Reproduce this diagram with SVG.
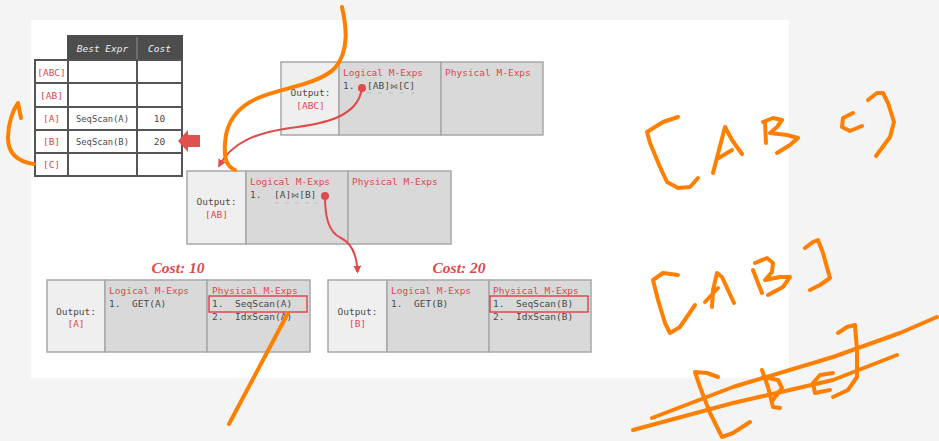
<svg xmlns="http://www.w3.org/2000/svg" width="939" height="441" viewBox="0 0 939 441">
  <defs>
    <style>
      .mono { font-family: "DejaVu Sans Mono", "Liberation Mono", monospace; font-size: 9.5px; }
      .ink { fill: #4a4a4a; }
      .red { fill: #e0474c; }
      .join { font-size: 8px; fill: #6a6a6a; }
      .outcell { fill: #efefef; stroke: #a8a8a8; stroke-width: 1.5; }
      .cell { fill: #d9d9d9; stroke: #a8a8a8; stroke-width: 1.5; }
      .grid { fill: #ffffff; stroke: #555555; stroke-width: 2; }
      .cost { font-family: "Liberation Serif", serif; font-style: italic; font-weight: bold; font-size: 15.5px; fill: #e0474c; }
      .link { fill: none; stroke: #e04a4a; stroke-width: 2; }
      .dash { stroke: #bdbdbd; stroke-width: 1.2; }
      .pen { fill: none; stroke: #ff7f00; stroke-width: 4; stroke-linecap: round; stroke-linejoin: round; }
    </style>
    <marker id="head" viewBox="0 0 10 10" refX="8" refY="5" markerWidth="4" markerHeight="4" orient="auto" markerUnits="strokeWidth">
      <path d="M0,0 L10,5 L0,10 z" fill="#e04a4a"/>
    </marker>
  </defs>

  <!-- backdrop and slide -->
  <rect x="0" y="0" width="939" height="441" fill="#f4f4f4"/>
  <rect x="31" y="20" width="758" height="358" fill="#ffffff"/>

  <!-- memo table -->
  <g id="memo-table" class="mono">
    <rect x="68" y="36" width="114" height="24" fill="#4d4d4d" stroke="#4d4d4d" stroke-width="2"/>
    <line x1="137" y1="37" x2="137" y2="59" stroke="#7a7a7a" stroke-width="1.5"/>
    <text x="102.5" y="52" text-anchor="middle" fill="#eeeeee" font-style="italic">Best Expr</text>
    <text x="159.5" y="52" text-anchor="middle" fill="#eeeeee" font-style="italic">Cost</text>

    <rect class="grid" x="35" y="60" width="33" height="23"/>
    <rect class="grid" x="68" y="60" width="69" height="23"/>
    <rect class="grid" x="137" y="60" width="45" height="23"/>
    <rect class="grid" x="35" y="83" width="33" height="24"/>
    <rect class="grid" x="68" y="83" width="69" height="24"/>
    <rect class="grid" x="137" y="83" width="45" height="24"/>
    <rect class="grid" x="35" y="107" width="33" height="23"/>
    <rect class="grid" x="68" y="107" width="69" height="23"/>
    <rect class="grid" x="137" y="107" width="45" height="23"/>
    <rect class="grid" x="35" y="130" width="33" height="23"/>
    <rect class="grid" x="68" y="130" width="69" height="23"/>
    <rect class="grid" x="137" y="130" width="45" height="23"/>
    <rect class="grid" x="35" y="153" width="33" height="23"/>
    <rect class="grid" x="68" y="153" width="69" height="23"/>
    <rect class="grid" x="137" y="153" width="45" height="23"/>

    <text x="51.5" y="75.5" text-anchor="middle" class="red">[ABC]</text>
    <text x="51.5" y="98.5" text-anchor="middle" class="red">[AB]</text>
    <text x="51.5" y="122" text-anchor="middle" class="red">[A]</text>
    <text x="51.5" y="145" text-anchor="middle" class="red">[B]</text>
    <text x="51.5" y="168" text-anchor="middle" class="red">[C]</text>

    <text x="76" y="122" class="ink" font-size="8.8">SeqScan(A)</text>
    <text x="159.5" y="122" text-anchor="middle" class="ink">10</text>
    <text x="76" y="145" class="ink" font-size="8.8">SeqScan(B)</text>
    <text x="159.5" y="145" text-anchor="middle" class="ink">20</text>
  </g>

  <!-- pointer into the table -->
  <g id="row-pointer">
    <polygon points="178,141 188,130 188,135 200,135 200,147 188,147 188,152" fill="#e05050"/>
  </g>

  <!-- group [ABC] -->
  <g id="group-abc" class="mono" transform="translate(281,62)">
    <rect class="outcell" x="0" y="0" width="58" height="73"/>
    <rect class="cell" x="58" y="0" width="102" height="73"/>
    <rect class="cell" x="160" y="0" width="102" height="73"/>
    <text x="29.5" y="33.5" text-anchor="middle" class="ink">Output:</text>
    <text x="29.5" y="46.5" text-anchor="middle" class="red">[ABC]</text>
    <text x="62" y="14" class="red">Logical M-Exps</text>
    <text x="62" y="26.5" class="ink">1.</text>
    <text x="86" y="26.5" class="ink">[AB]<tspan class="join">⋈</tspan>[C]</text>
    <line class="dash" x1="86" y1="31" x2="135" y2="31" stroke-dasharray="4 7"/>
    <text x="164" y="14" class="red">Physical M-Exps</text>
  </g>

  <!-- group [AB] -->
  <g id="group-ab" class="mono" transform="translate(187,171)">
    <rect class="outcell" x="0" y="0" width="59" height="73"/>
    <rect class="cell" x="59" y="0" width="102" height="73"/>
    <rect class="cell" x="161" y="0" width="103" height="73"/>
    <text x="29.5" y="34" text-anchor="middle" class="ink">Output:</text>
    <text x="29.5" y="46.5" text-anchor="middle" class="red">[AB]</text>
    <text x="63" y="14" class="red">Logical M-Exps</text>
    <text x="63" y="26.5" class="ink">1.</text>
    <text x="87" y="26.5" class="ink">[A]<tspan class="join">⋈</tspan>[B]</text>
    <line class="dash" x1="88" y1="32" x2="131" y2="32" stroke-dasharray="4 6"/>
    <text x="165" y="14" class="red">Physical M-Exps</text>
  </g>

  <!-- group [A] -->
  <g id="group-a" class="mono" transform="translate(47,280)">
    <text x="131" y="-7" text-anchor="middle" class="cost">Cost: 10</text>
    <rect class="outcell" x="0" y="0" width="58" height="72"/>
    <rect class="cell" x="58" y="0" width="102" height="72"/>
    <rect class="cell" x="160" y="0" width="103" height="72"/>
    <text x="29" y="35" text-anchor="middle" class="ink">Output:</text>
    <text x="29" y="47" text-anchor="middle" class="red">[A]</text>
    <text x="62" y="14" class="red">Logical M-Exps</text>
    <text x="62" y="27" class="ink">1.</text>
    <text x="85" y="27" class="ink">GET(A)</text>
    <text x="165" y="14" class="red">Physical M-Exps</text>
    <rect x="162" y="16" width="98" height="16" fill="none" stroke="#e0474c" stroke-width="1.5"/>
    <text x="165" y="27" class="ink">1.</text>
    <text x="188" y="27" class="ink">SeqScan(A)</text>
    <text x="165" y="40" class="ink">2.</text>
    <text x="188" y="40" class="ink">IdxScan(A)</text>
  </g>

  <!-- group [B] -->
  <g id="group-b" class="mono" transform="translate(328,280)">
    <text x="131" y="-7" text-anchor="middle" class="cost">Cost: 20</text>
    <rect class="outcell" x="0" y="0" width="59" height="72"/>
    <rect class="cell" x="59" y="0" width="102" height="72"/>
    <rect class="cell" x="161" y="0" width="102" height="72"/>
    <text x="29.5" y="35" text-anchor="middle" class="ink">Output:</text>
    <text x="29.5" y="47" text-anchor="middle" class="red">[B]</text>
    <text x="63" y="14" class="red">Logical M-Exps</text>
    <text x="63" y="27" class="ink">1.</text>
    <text x="86" y="27" class="ink">GET(B)</text>
    <text x="165" y="14" class="red">Physical M-Exps</text>
    <rect x="162" y="16" width="98" height="16" fill="none" stroke="#e0474c" stroke-width="1.5"/>
    <text x="165" y="27" class="ink">1.</text>
    <text x="188" y="27" class="ink">SeqScan(B)</text>
    <text x="165" y="40" class="ink">2.</text>
    <text x="188" y="40" class="ink">IdxScan(B)</text>
  </g>

  <!-- connectors -->
  <g id="connectors">
    <path class="link" d="M362,88 C358,118 322,124 290,128 C256,133 232,142 219,166" marker-end="url(#head)"/>
    <circle cx="362" cy="88" r="4" fill="#e04a4a"/>
    <path class="link" d="M325,196 C325,216 328,232 341,238 C353,244 357,256 357.5,272" marker-end="url(#head)"/>
    <circle cx="325" cy="196" r="4" fill="#e04a4a"/>
  </g>

  <!-- pen strokes -->
  <g id="pen-strokes">
    <path class="pen" d="M342,7 C346,25 350,50 335,68 C318,85 280,88 258,98 C235,108 226,125 225,143 C224,158 226,166 235,170"/>
    <path class="pen" d="M34,164 C20,162 8,155 8,138 C8,123 13,110 18,103 L21,118"/>
    <path class="pen" d="M229,424 L288,313"/>

    <!-- [AB C) -->
    <path class="pen" d="M678,117 L663,122 L647,132 L650,143 L660,167 L667,182 L678,188 L690,187 L698,178"/>
    <path class="pen" d="M713,173 L725,127 L732,140 L742,154 M717,159 L732,150"/>
    <path class="pen" d="M765,122 L766,143 M763,122 L773,118 L782,120 L777,127 L770,133 L787,135 L798,138 L790,145 L777,153"/>
    <path class="pen" d="M853,113 L843,118 L842,127 L850,131 L862,126"/>
    <path class="pen" d="M868,100 L877,93 L883,93 L888,103 L894,122 L890,137 L876,156"/>

    <!-- [AB] -->
    <path class="pen" d="M678,275 L663,273 L653,280 L658,300 L665,323 L670,333 L680,327 L695,305"/>
    <path class="pen" d="M712,307 L713,290 L717,273 L722,277 L728,290 L734,303 M705,302 L718,288"/>
    <path class="pen" d="M753,270 L758,283 L762,293 M755,263 L767,258 L773,263 L772,272 L765,280 L780,277 L790,277 L783,287 L768,295"/>
    <path class="pen" d="M805,248 L813,242 L818,240 L823,253 L830,278 L820,285 L810,290"/>

    <!-- [BC] struck out -->
    <path class="pen" d="M718,377 L707,373 L695,372 L700,387 L710,413 L722,437 L733,433 L750,422"/>
    <path class="pen" d="M762,370 L768,387 L773,407 L780,408 M763,377 L778,380 L782,388 L773,400"/>
    <path class="pen" d="M833,373 L820,375 L813,383 L815,393 L830,390"/>
    <path class="pen" d="M838,333 L847,327 L855,325 L857,350 L857,377 L848,390 L833,397"/>
    <path class="pen" d="M652,418 L733,387 L833,357 L900,333 L937,317"/>
    <path class="pen" d="M633,430 L733,403 L833,380 L897,355"/>
  </g>
</svg>
